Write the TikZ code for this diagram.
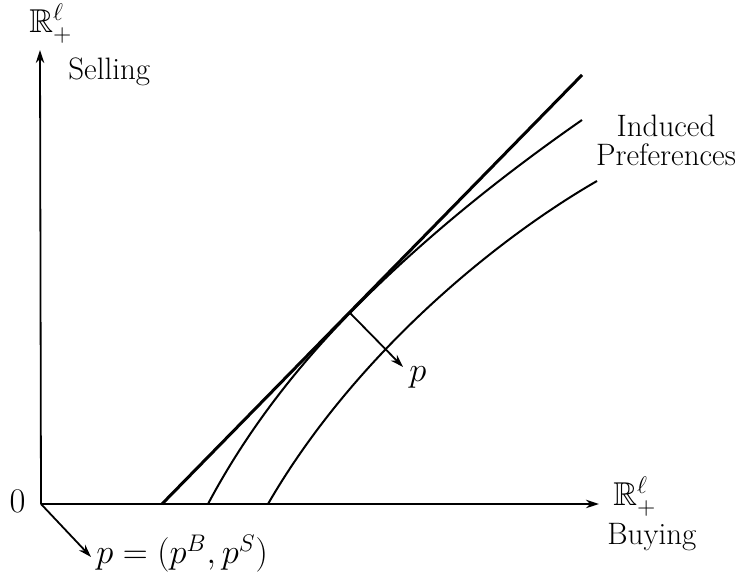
\documentclass[tikz,border=0pt]{standalone}
\usepackage{amssymb}
\usetikzlibrary{arrows.meta}
\begin{document}
\begin{tikzpicture}[x=0.5pt,y=0.5pt,
  axis/.style={line width=0.9pt,-{Stealth[length=6.5pt,width=4.2pt]}},
  budget/.style={line width=1.5pt},
  curve/.style={line width=1pt},
  vec/.style={line width=0.9pt,-{Stealth[length=6.5pt,width=4.2pt]}},
  lbl/.style={font=\fontsize{15.5}{16}\selectfont,inner sep=0pt},
  mlbl/.style={font=\fontsize{16.5}{17}\selectfont,inner sep=0pt}]
\useasboundingbox (0,0) rectangle (745,576);
% points
\coordinate (O) at (41,72);
\coordinate (Ytip) at (40,526);
\coordinate (Xtip) at (599,72);
\coordinate (L0) at (162,72);
\coordinate (L1) at (582,501);
\coordinate (T) at (350,263);
\coordinate (Ptip) at (403,209);
\coordinate (M0) at (208,72);
\coordinate (M1) at (582,456);
\coordinate (N0) at (268,72);
\coordinate (N1) at (597,395);
\coordinate (Otip) at (91,19);
% axes
\draw[axis] (O) -- (Ytip);
\draw[axis] (O) -- (Xtip);
\draw[vec] (O) -- (Otip);
% budget line
\draw[budget] (L0) -- (L1);
% indifference curves
\draw[curve] (M0) .. controls (245.5,142.6) and (294,205.8) .. (T)
                  .. controls (420,334.5) and (500,399) .. (M1);
\draw[curve] (N0) .. controls (353,219) and (493,335) .. (N1);
% price vector
\draw[vec] (T) -- (Ptip);
% labels
\node[mlbl,anchor=base west] (ry) at (29,543) {$\mathbb{R}^{\ell}_{+}$};
\node[lbl,anchor=base west] (sell) at (68,496) {Selling};
\node[lbl,align=center,font=\fontsize{15.5}{14.5}\selectfont] (ind) at (666,436) {Induced\\Preferences};
\node[mlbl,anchor=base] (zero) at (17.5,63) {$0$};
\node[mlbl,anchor=base west] (rx) at (613,70) {$\mathbb{R}^{\ell}_{+}$};
\node[lbl,anchor=base west] (buy) at (607,31) {Buying};
\node[mlbl,anchor=base west] (peq) at (96,12) {$p=(p^B,p^S)$};
\node[mlbl,anchor=base west] (p) at (409,194) {$p$};
\end{tikzpicture}
\end{document}
